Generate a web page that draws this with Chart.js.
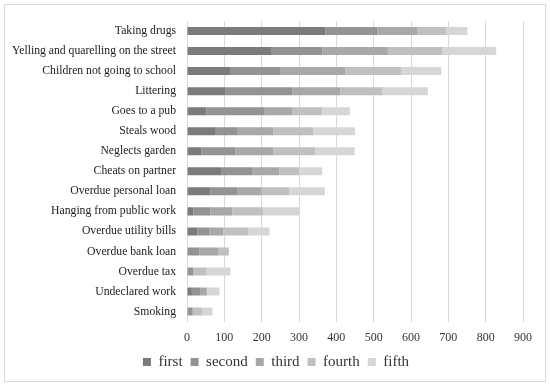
<!DOCTYPE html>
<html>
<head>
<meta charset="utf-8">
<script src="https://cdn.jsdelivr.net/npm/chart.js@4"></script>
<style>
  body { margin: 0; background: #fff; }
  #wrap { position: relative; width: 550px; height: 386px; }
  #frame { position: absolute; left: 4px; top: 4px; width: 540px; height: 376px; border: 1px solid #d9d9d9; pointer-events: none; }
</style>
</head>
<body>
<div id="wrap">
  <canvas id="chart" width="550" height="386"></canvas>
  <div id="frame"></div>
</div>
<script>
/* categories, top to bottom */
const categories = [
  "Taking drugs",
  "Yelling and quarelling on the street",
  "Children not going to school",
  "Littering",
  "Goes to a pub",
  "Steals wood",
  "Neglects garden",
  "Cheats on partner",
  "Overdue personal loan",
  "Hanging from public work",
  "Overdue utility bills",
  "Overdue bank loan",
  "Overdue tax",
  "Undeclared work",
  "Smoking",
];

const first  = [370, 227, 115, 102, 52, 75, 38, 93, 63, 17, 28, 0, 0, 13, 0];
const second = [140, 136, 134, 181, 156, 61, 92, 81, 71, 46, 32, 33, 16, 22, 15];
const third  = [108, 175, 175, 127, 75, 95, 102, 73, 65, 58, 37, 50, 0, 18, 0];
const fourth = [76, 145, 149, 114, 79, 107, 111, 53, 74, 83, 68, 29, 36, 0, 25];
const fifth  = [57, 145, 108, 121, 74, 112, 106, 62, 96, 96, 56, 0, 64, 34, 28];

const xTicks = [0, 100, 200, 300, 400, 500, 600, 700, 800, 900];

const serif = "'Liberation Serif', 'Times New Roman', serif";

/* nudge the legend a bit to the right, like the original */
const legendShift = {
  id: "legendShift",
  afterLayout(chart) {
    if (chart.legend) {
      chart.legend.left += 10;
      chart.legend.right += 10;
    }
  },
};

const ctx = document.getElementById("chart");

new Chart(ctx, {
  type: "bar",
  data: {
    labels: categories,
    datasets: [
      { label: "first", data: first, backgroundColor: "#7b7b7b" },
      { label: "second", data: second, backgroundColor: "#939393" },
      { label: "third", data: third, backgroundColor: "#a8a8a8" },
      { label: "fourth", data: fourth, backgroundColor: "#c0c0c0" },
      { label: "fifth", data: fifth, backgroundColor: "#d6d6d6" },
    ],
  },
  options: {
    indexAxis: "y",
    responsive: false,
    animation: false,
    barPercentage: 0.4,
    categoryPercentage: 1,
    layout: {
      padding: { left: 9, right: 27, top: 21, bottom: 6.5 },
    },
    scales: {
      x: {
        stacked: true,
        min: 0,
        max: 900,
        afterBuildTicks: (axis) => {
          axis.ticks = xTicks.map((v) => ({ value: v }));
        },
        // pull the legend up closer to the tick labels
        afterFit: (axis) => {
          axis.height -= 7.5;
        },
        grid: { color: "#d9d9d9", drawTicks: false },
        border: { display: false },
        ticks: {
          color: "#333",
          padding: 9,
          font: { family: serif, size: 12 },
        },
      },
      y: {
        stacked: true,
        grid: { display: false },
        border: { display: false },
        ticks: {
          color: "#222",
          padding: 3,
          autoSkip: false,
          font: { family: serif, size: 11.7 },
        },
      },
    },
    plugins: {
      tooltip: { enabled: false },
      legend: {
        position: "bottom",
        labels: {
          boxWidth: 8,
          boxHeight: 8,
          padding: 8,
          color: "#333",
          font: { family: serif, size: 15 },
        },
      },
    },
  },
  plugins: [legendShift],
});
</script>
</body>
</html>
